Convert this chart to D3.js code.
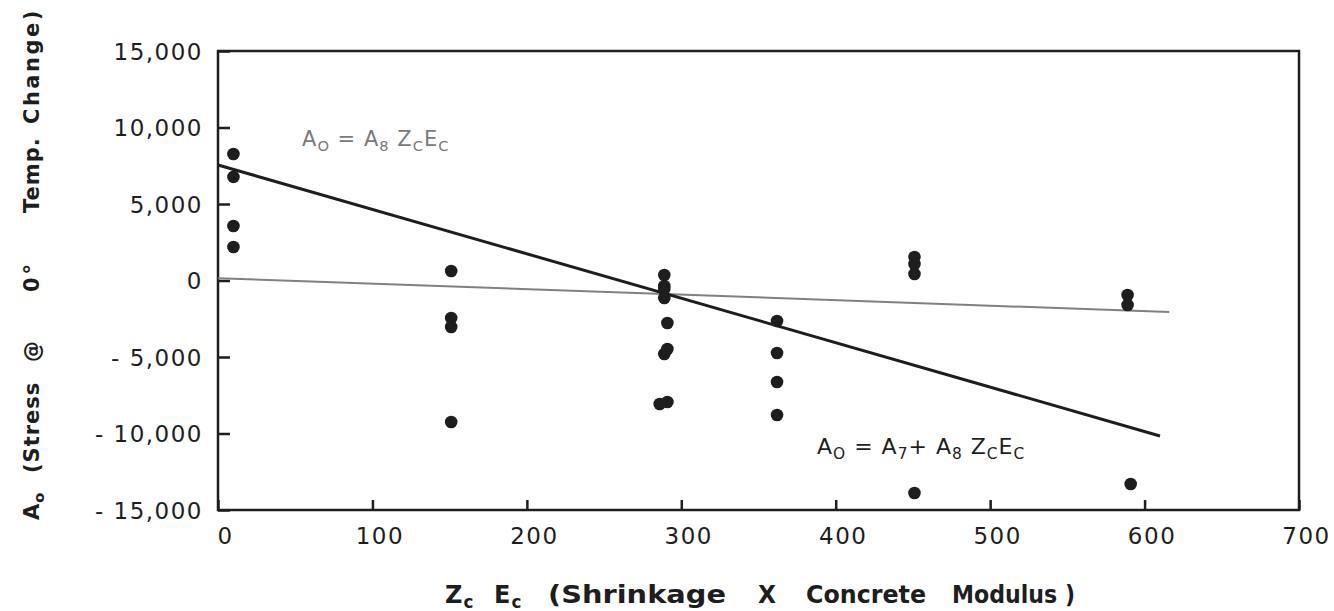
<!DOCTYPE html>
<html>
<head>
<meta charset="utf-8">
<script src="https://cdn.jsdelivr.net/npm/d3@7"></script>
<style>
  html, body { margin: 0; padding: 0; background: #fff; }
  svg { display: block; }
  text { font-family: "DejaVu Sans", sans-serif; fill: #1e1e1e; white-space: pre; }
</style>
</head>
<body>
<script>
// Observed stress at 0° temperature change vs. shrinkage × concrete modulus
const zcEc   = [10, 10, 10, 10,
                151, 151, 151, 151,
                289, 289, 289, 289, 291, 291, 289, 286, 291,
                362, 362, 362, 362,
                451, 451, 451, 451,
                589, 589, 591];
const stress = [8270, 6770, 3560, 2190,
                620, -2450, -3040, -9250,
                360, -360, -560, -1140, -2780, -4480, -4800, -8070, -7940,
                -2650, -4740, -6630, -8790,
                1540, 1080, 430, -13890,
                -950, -1600, -13300];

// Fitted lines: A0 = A7 + A8·ZcEc (heavy) and A0 = A8·ZcEc (light)
const fitFull   = [{x: 0, y: 7550}, {x: 610, y: -10160}];
const fitOrigin = [{x: 0, y: 150},  {x: 616, y: -2060}];

const xTicks = [0, 100, 200, 300, 400, 500, 600, 700];
const yTicks = [-15000, -10000, -5000, 0, 5000, 10000, 15000];

const W = 1334, H = 611;
const plotL = 218, plotR = 1299, plotT = 51, plotB = 510;

const svg = d3.select("body").append("svg").attr("width", W).attr("height", H);

const x = d3.scaleLinear().domain([0, 700]).range([plotL, plotR]);
const y = d3.scaleLinear().domain([-15000, 15000]).range([plotB, plotT]);

const ink = "#1e1e1e";
const yFmt = d3.format(",");

// Axes with inward ticks
const yAxis = svg.append("g")
  .attr("transform", `translate(${plotL},0)`)
  .call(d3.axisLeft(y).tickValues(yTicks).tickSize(-12).tickSizeOuter(0)
        .tickPadding(15).tickFormat(d => d < 0 ? "- " + yFmt(-d) : yFmt(d)));
const xAxis = svg.append("g")
  .attr("transform", `translate(0,${plotB})`)
  .call(d3.axisBottom(x).tickValues(xTicks).tickSize(-10).tickSizeOuter(0)
        .tickPadding(18));

[yAxis, xAxis].forEach(g => {
  g.select(".domain").remove();
  g.selectAll(".tick line").attr("stroke", ink).attr("stroke-width", 2.5);
  g.selectAll(".tick text")
    .style("font-family", "'DejaVu Sans', sans-serif")
    .style("font-size", "23px")
    .style("letter-spacing", "1.5px")
    .style("white-space", "pre")
    .attr("fill", ink);
});
yAxis.selectAll(".tick text").attr("dy", "0.36em");
xAxis.selectAll(".tick text").attr("dx", 7);

// Plot frame
svg.append("rect")
  .attr("x", x(0)).attr("y", y(15000))
  .attr("width", x(700) - x(0)).attr("height", y(-15000) - y(15000))
  .attr("fill", "none").attr("stroke", ink).attr("stroke-width", 2.5);

// Fitted lines
const line = d3.line().x(d => x(d.x)).y(d => y(d.y));
svg.append("path").datum(fitOrigin).attr("d", line)
  .attr("fill", "none").attr("stroke", "#808080").attr("stroke-width", 2);
svg.append("path").datum(fitFull).attr("d", line)
  .attr("fill", "none").attr("stroke", ink).attr("stroke-width", 3);

// Observations
svg.append("g").selectAll("circle")
  .data(zcEc.map((v, i) => ({x: v, y: stress[i]})))
  .join("circle")
  .attr("cx", d => x(d.x)).attr("cy", d => y(d.y)).attr("r", 6.3)
  .attr("fill", ink);

// Text built from parts: [string, isSubscript, optional absolute x, optional letter-spacing]
function richText(sel, parts, size) {
  parts.forEach(([s, sub, px, ls]) => {
    const t = sel.append("tspan")
      .text(s)
      .style("font-size", (sub ? size * 0.7 : size) + "px")
      .attr("baseline-shift", sub ? "-30%" : null);
    if (px !== undefined && px !== null) t.attr("x", px);
    if (ls !== undefined) t.style("letter-spacing", ls + "px");
  });
  return sel;
}

// Equation labels
richText(svg.append("text").attr("x", 302).attr("y", 146)
  .style("fill", "#7a7a7a").style("letter-spacing", "1px"),
  [["A", 0], ["O", 1], [" = ", 0], ["A", 0], ["8", 1], [" Z", 0], ["C", 1], ["E", 0], ["C", 1]], 21)
  .selectAll("tspan").style("fill", "#7a7a7a");

richText(svg.append("text").attr("x", 817).attr("y", 454).style("letter-spacing", "1px"),
  [["A", 0], ["O", 1], [" = ", 0], ["A", 0], ["7", 1], ["+ ", 0], ["A", 0], ["8", 1], [" Z", 0], ["C", 1], ["E", 0], ["C", 1]], 22);

// X axis title: symbols, then narrow lettered words
const xTitle = svg.append("g").style("font-weight", "bold");
richText(xTitle.append("text").attr("y", 603).style("letter-spacing", "1px"),
  [["Z", 0, 445], ["c", 1], ["E", 0, 494], ["c", 1]], 24);
const titleWords = [["(Shrinkage", 548, 178], ["X", 758, 18], ["Concrete", 806, 120], ["Modulus )", 952, 123]];
xTitle.selectAll("text.word")
  .data(titleWords)
  .join("text")
  .attr("class", "word")
  .attr("x", d => d[1]).attr("y", 603)
  .attr("textLength", d => d[2]).attr("lengthAdjust", "spacingAndGlyphs")
  .style("font-size", "25px")
  .text(d => d[0]);

// Y axis title (rotated; x runs upward from the bottom)
richText(svg.append("text")
  .attr("transform", "translate(39,0) rotate(-90)")
  .style("letter-spacing", "1px").style("font-weight", "bold"),
  [["A", 0, -520], ["o", 1], ["(Stress", 0, -473], ["@", 0, -362],
   ["0°", 0, -292, 3], ["Temp.", 0, -213], ["Change)", 0, -124, 2.5]], 21);
</script>
</body>
</html>
